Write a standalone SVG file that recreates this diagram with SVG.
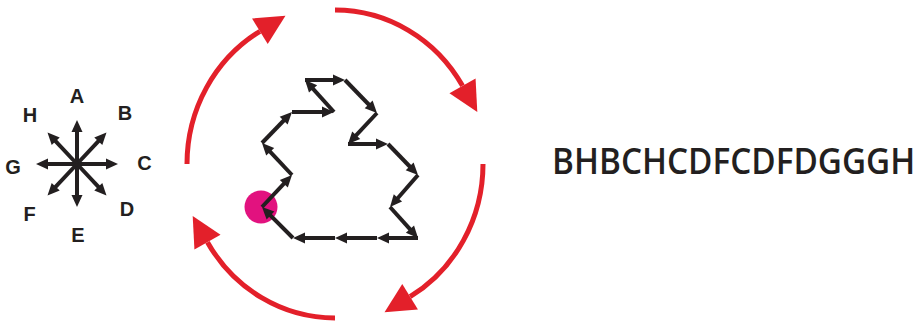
<svg xmlns="http://www.w3.org/2000/svg" width="922" height="322" viewBox="0 0 922 322">
  <style>
    .arc { fill: none; stroke: #e3202a; stroke-width: 5; stroke-linecap: butt; marker-end: url(#redHead); }
    .seg { stroke: #231f20; stroke-width: 4; stroke-linecap: butt; marker-end: url(#blackHead); }
    .lbl { font-family: "Liberation Sans", Arial, sans-serif; font-weight: bold; font-size: 20px; fill: #231f20; text-anchor: middle; }
    .code { font-family: "Open Sans", "Noto Sans", sans-serif; font-weight: 600; font-size: 36px; fill: #231f20; }
  </style>
  <defs>
    <marker id="redHead" markerUnits="userSpaceOnUse" markerWidth="30" markerHeight="30" refX="0" refY="15" orient="auto" overflow="visible">
      <path d="M0,0 L30,15 L0,30 z" fill="#e3202a"/>
    </marker>
    <marker id="blackHead" markerUnits="userSpaceOnUse" markerWidth="12" markerHeight="11" refX="4" refY="5.5" orient="auto" overflow="visible">
      <path d="M0,0 L12,5.5 L0,11 z" fill="#231f20"/>
    </marker>
  </defs>

  <rect width="922" height="322" fill="#ffffff"/>

  <g id="compass">
    <line class="seg" x1="77" y1="164" x2="77" y2="128"/>
    <line class="seg" x1="77" y1="164" x2="77" y2="199"/>
    <line class="seg" x1="77" y1="164" x2="44" y2="164"/>
    <line class="seg" x1="77" y1="164" x2="110" y2="164"/>
    <line class="seg" x1="77" y1="164" x2="101.03" y2="138.34"/>
    <line class="seg" x1="77" y1="164" x2="52.97" y2="138.34"/>
    <line class="seg" x1="77" y1="164" x2="101.03" y2="189.66"/>
    <line class="seg" x1="77" y1="164" x2="52.97" y2="189.66"/>
    <text class="lbl" x="77" y="103">A</text>
    <text class="lbl" x="125" y="120">B</text>
    <text class="lbl" x="144.5" y="170">C</text>
    <text class="lbl" x="127" y="215.5">D</text>
    <text class="lbl" x="78" y="242">E</text>
    <text class="lbl" x="29.5" y="221">F</text>
    <text class="lbl" x="13" y="174">G</text>
    <text class="lbl" x="30" y="122">H</text>
  </g>

  <g id="cycle">
    <path class="arc" d="M187,164 A148,154 0 0 1 259.89,31.31"/>
    <path class="arc" d="M335,10 A148,154 0 0 1 462.52,85.84"/>
    <path class="arc" d="M483,164 A148,154 0 0 1 410.11,296.69"/>
    <path class="arc" d="M335,318 A148,154 0 0 1 207.48,242.16"/>
  </g>

  <g id="start-point">
    <circle cx="261" cy="207" r="16.5" fill="#e2127f"/>
  </g>

  <g id="chain">
    <line class="seg" x1="262" y1="207" x2="286.53" y2="180.84"/>
    <line class="seg" x1="292" y1="175" x2="267.47" y2="148.84"/>
    <line class="seg" x1="262" y1="143" x2="286.44" y2="117.75"/>
    <line class="seg" x1="292" y1="112" x2="326" y2="112"/>
    <line class="seg" x1="334" y1="112" x2="310.37" y2="85.93"/>
    <line class="seg" x1="305" y1="80" x2="337" y2="80"/>
    <line class="seg" x1="345" y1="80" x2="371.43" y2="107.26"/>
    <line class="seg" x1="377" y1="113" x2="353.47" y2="138.16"/>
    <line class="seg" x1="348" y1="144" x2="380" y2="144"/>
    <line class="seg" x1="388" y1="144" x2="412.44" y2="169.25"/>
    <line class="seg" x1="418" y1="175" x2="395.27" y2="200.98"/>
    <line class="seg" x1="390" y1="207" x2="412.64" y2="232.06"/>
    <line class="seg" x1="418" y1="238" x2="385" y2="238"/>
    <line class="seg" x1="377" y1="238" x2="343" y2="238"/>
    <line class="seg" x1="335" y1="238" x2="301" y2="238"/>
    <line class="seg" x1="293" y1="238" x2="267.66" y2="212.66"/>
  </g>

  <g id="chain-code" transform="translate(552,174) scale(0.925,1)">
    <text class="code" x="0" y="0">BHBCHCDFCDFDGGGH</text>
  </g>
</svg>
